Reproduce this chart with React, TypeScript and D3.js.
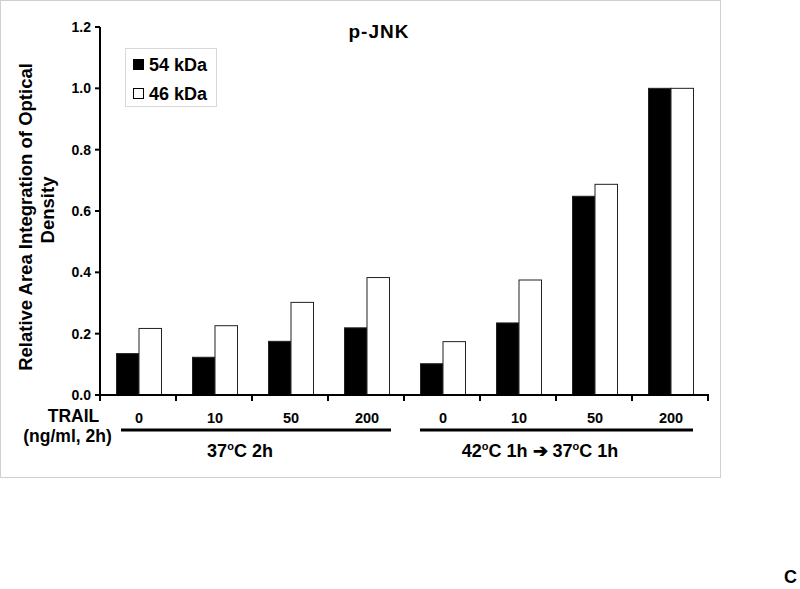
import React from "react";
import * as d3 from "d3";

const categories = ["0", "10", "50", "200", "0", "10", "50", "200"];
const series = ["54 kDa", "46 kDa"];
const kda54 = [0.135, 0.123, 0.175, 0.219, 0.102, 0.235, 0.648, 1.0];
const kda46 = [0.217, 0.226, 0.302, 0.383, 0.174, 0.375, 0.687, 1.0];
const yTicks = [0, 0.2, 0.4, 0.6, 0.8, 1.0, 1.2];

const W = 800, H = 589;
const font = "Liberation Sans, Arial, Helvetica, sans-serif";

export default function App() {
  const x = d3.scaleBand<number>().domain(d3.range(categories.length)).range([100, 708]).paddingInner(0).paddingOuter(0);
  const y = d3.scaleLinear().domain([0, 1.2]).range([395, 27]);
  const bw = 22.5;
  const off = 16.5;
  const colors = ["#000", "#fff"];
  const vals = [kda54, kda46];

  return (
    <svg width={W} height={H} style={{ position: "absolute", left: 0, top: 0, background: "#fff" }} fontFamily={font}>
      <rect x={0.5} y={0.5} width={720} height={477} fill="#fff" stroke="#d0d0d0" strokeWidth={1} />
      {/* bars */}
      {categories.map((c, i) =>
        vals.map((v, s) => (
          <rect
            key={`${i}-${s}`}
            x={(x(i) as number) + off + s * bw}
            y={y(v[i])}
            width={bw}
            height={y(0) - y(v[i])}
            fill={colors[s]}
            stroke="#222"
            strokeWidth={1}
          />
        ))
      )}
      {/* y axis */}
      <line x1={100} x2={100} y1={y(1.2)} y2={y(0) + 1} stroke="#000" strokeWidth={2} />
      {yTicks.map((t) => (
        <g key={t}>
          <line x1={95} x2={100} y1={y(t)} y2={y(t)} stroke="#000" strokeWidth={2} />
          <text x={91} y={y(t)} dy="0.36em" textAnchor="end" fontSize={14} fontWeight="bold">
            {d3.format(".1f")(t)}
          </text>
        </g>
      ))}
      {/* x axis */}
      <line x1={99} x2={709} y1={y(0)} y2={y(0)} stroke="#000" strokeWidth={2} />
      {d3.range(categories.length + 1).map((i) => {
        const xx = i < categories.length ? (x(i) as number) : 708;
        return <line key={i} x1={xx} x2={xx} y1={y(0)} y2={y(0) + 6} stroke="#000" strokeWidth={2} />;
      })}
      {categories.map((c, i) => (
        <text key={i} x={(x(i) as number) + x.bandwidth() / 2 + 1} y={423} textAnchor="middle" fontSize={14.5} fontWeight="bold">
          {c}
        </text>
      ))}
      <text x={73.5} y={422} textAnchor="middle" fontSize={17.5} fontWeight="bold">TRAIL</text>
      <text x={67.5} y={442} textAnchor="middle" fontSize={17.5} fontWeight="bold">(ng/ml, 2h)</text>
      {/* group lines */}
      <line x1={121} x2={391} y1={430} y2={430} stroke="#000" strokeWidth={3} />
      <line x1={420} x2={693} y1={430} y2={430} stroke="#000" strokeWidth={3} />
      <text x={240} y={457} textAnchor="middle" fontSize={18} fontWeight="bold">
        37<tspan fontSize={11} dy={-7}>o</tspan><tspan dy={7}>C 2h</tspan>
      </text>
      <text x={540} y={457} textAnchor="middle" fontSize={18} fontWeight="bold">
        42<tspan fontSize={11} dy={-7}>o</tspan><tspan dy={7}>C 1h </tspan>
        <tspan>{"\u2794"}</tspan>
        <tspan> 37</tspan><tspan fontSize={11} dy={-7}>o</tspan><tspan dy={7}>C 1h</tspan>
      </text>
      {/* title */}
      <text x={379} y={38} textAnchor="middle" fontSize={19} fontWeight="bold" letterSpacing={1}>p-JNK</text>
      {/* y title */}
      <text transform="translate(32,217) rotate(-90)" textAnchor="middle" fontSize={18.5} fontWeight="bold">
        Relative Area Integration of Optical
      </text>
      <text transform="translate(54,210) rotate(-90)" textAnchor="middle" fontSize={18.5} fontWeight="bold">
        Density
      </text>
      {/* legend */}
      <rect x={125.5} y={48.5} width={91} height={58} fill="#fff" stroke="#d8d8d8" strokeWidth={1} />
      {series.map((s, i) => (
        <g key={s}>
          <rect x={133.5} y={59.5 + i * 29} width={10} height={10} fill={colors[i]} stroke="#000" strokeWidth={1} />
          <text x={149} y={71 + i * 29} fontSize={18} fontWeight="bold">{s}</text>
        </g>
      ))}
      <text x={784} y={583} fontSize={18} fontWeight="bold">C</text>
    </svg>
  );
}
